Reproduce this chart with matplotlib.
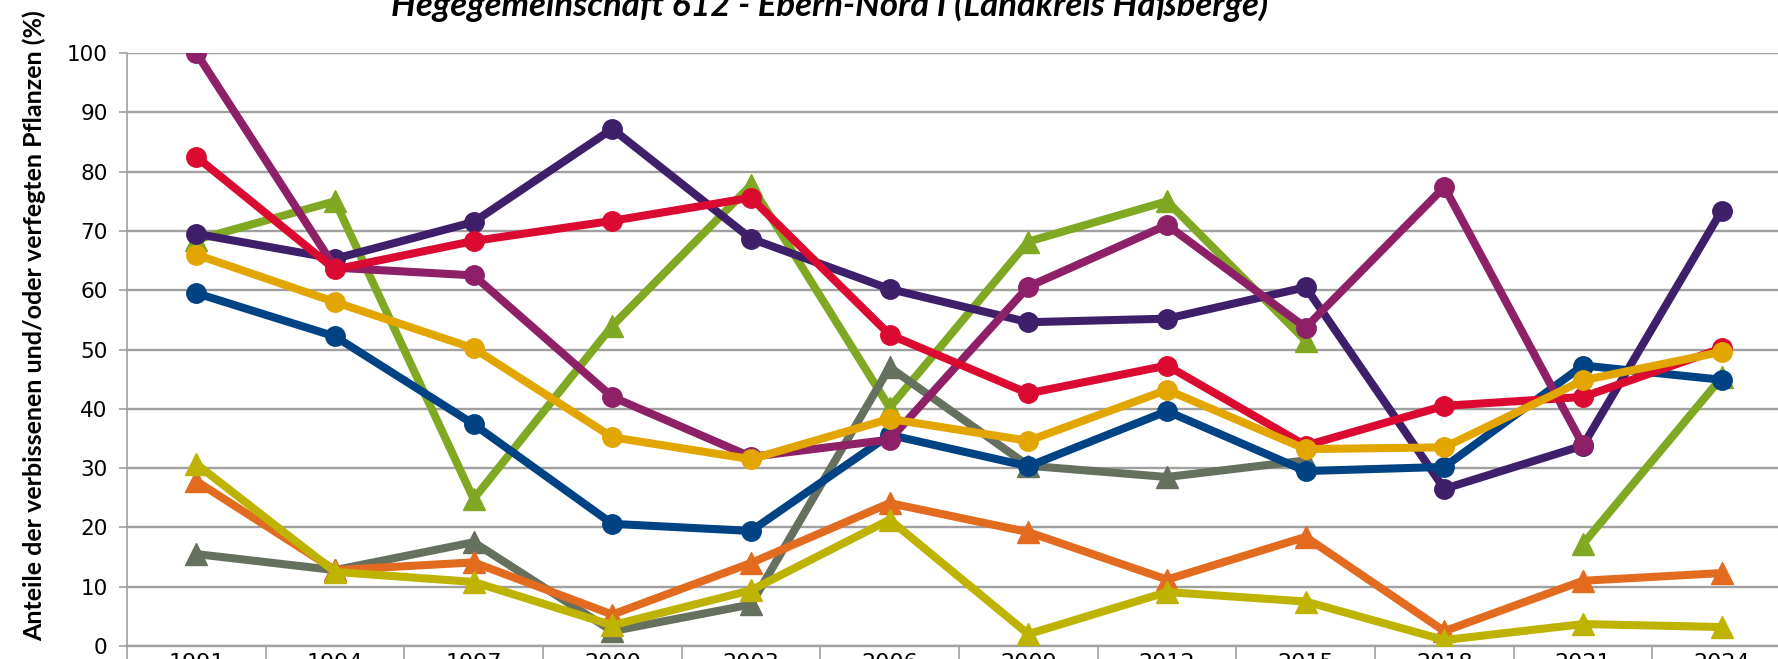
import numpy as np
import matplotlib.pyplot as plt

# Jahre der Aufnahmen
years = ['1991', '1994', '1997', '2000', '2003', '2006', '2009', '2012', '2015', '2018', '2021', '2024']

# Reihen mit Dreiecken
green = [68.5, 75.0, 24.8, 54.0, 77.7, 40.2, 68.2, 75.0, 51.5, np.nan, 17.2, 45.3]
grey = [15.5, 12.8, 17.5, 2.5, 7.0, 47.0, 30.4, 28.5, 31.3, np.nan, np.nan, np.nan]
orange = [27.8, 12.8, 14.1, 5.3, 14.0, 24.1, 19.2, 11.2, 18.4, 2.5, 11.0, 12.3]
olive = [30.7, 12.5, 10.8, 3.5, 9.4, 21.3, 2.0, 9.1, 7.5, 1.0, 3.7, 3.2]

# Reihen mit Kreisen
darkpurple = [69.5, 65.3, 71.5, 87.2, 68.7, 60.2, 54.6, 55.2, 60.5, 26.5, 33.8, 73.4]
blue = [59.5, 52.2, 37.4, 20.6, 19.4, 35.6, 30.3, 39.6, 29.5, 30.2, 47.3, 44.9]
magenta = [100.0, 63.8, 62.5, 42.0, 31.9, 34.8, 60.6, 71.0, 53.7, 77.4, 33.9, np.nan]
red = [82.5, 63.5, 68.3, 71.7, 75.6, 52.5, 42.6, 47.3, 33.8, 40.5, 42.0, 50.2]
yellow = [66.0, 58.0, 50.2, 35.2, 31.5, 38.3, 34.6, 43.2, 33.2, 33.5, 44.8, 49.6]

x = np.arange(len(years))

fig = plt.figure(figsize=(17.78, 6.59), dpi=100)
ax = fig.add_axes([127 / 1778, 13 / 659, 1664 / 1778, 593 / 659])

lw = 5.8
for vals, col in [(green, '#80A823'), (grey, '#66705F'), (orange, '#E36B1F'), (olive, '#BEB300')]:
    ax.plot(x, vals, color=col, lw=lw, marker='^', markersize=16, zorder=3)

for vals, col in [(darkpurple, '#3D1F6A'), (blue, '#004385'), (magenta, '#8E2068'),
                  (red, '#DB0A30'), (yellow, '#E3A600')]:
    ax.plot(x, vals, color=col, lw=lw, marker='o', markersize=14, zorder=3)

ax.set_xlim(-0.5, 11.5)
ax.set_ylim(0, 100)
ax.set_yticks(range(0, 101, 10))
ax.set_xticks(x)
ax.set_xticklabels(years)
ax.set_xticks(np.arange(-0.5, 12, 1), minor=True)
ax.tick_params(axis='x', which='major', length=0, pad=5, labelsize=16)
ax.tick_params(axis='x', which='minor', length=12, width=1.2, color='#A0A0A0')
ax.tick_params(axis='y', length=6, width=1.2, color='#A0A0A0', labelsize=15.5, pad=8)
ax.grid(axis='y', color='#A0A0A0', lw=1.7, zorder=0)
ax.set_axisbelow(True)
for s in ['top', 'right']:
    ax.spines[s].set_visible(False)
ax.spines['left'].set_color('#A0A0A0')
ax.spines['left'].set_linewidth(1.2)
ax.spines['bottom'].set_color('#A0A0A0')
ax.spines['bottom'].set_linewidth(1.7)

fig.text(34 / 1778, 1 - 326 / 659, 'Anteile der verbissenen und/oder verfegten Pflanzen (%)',
         rotation=90, ha='center', va='center', fontsize=18, fontweight='bold', family='Lato')
fig.text(830 / 1778, 1 - 16 / 659, 'Hegegemeinschaft 612 - Ebern-Nord I (Landkreis Haßberge)',
         ha='center', va='baseline', fontsize=25, fontweight='bold', fontstyle='italic', family='Lato')

fig.savefig('out.png', dpi=100)
